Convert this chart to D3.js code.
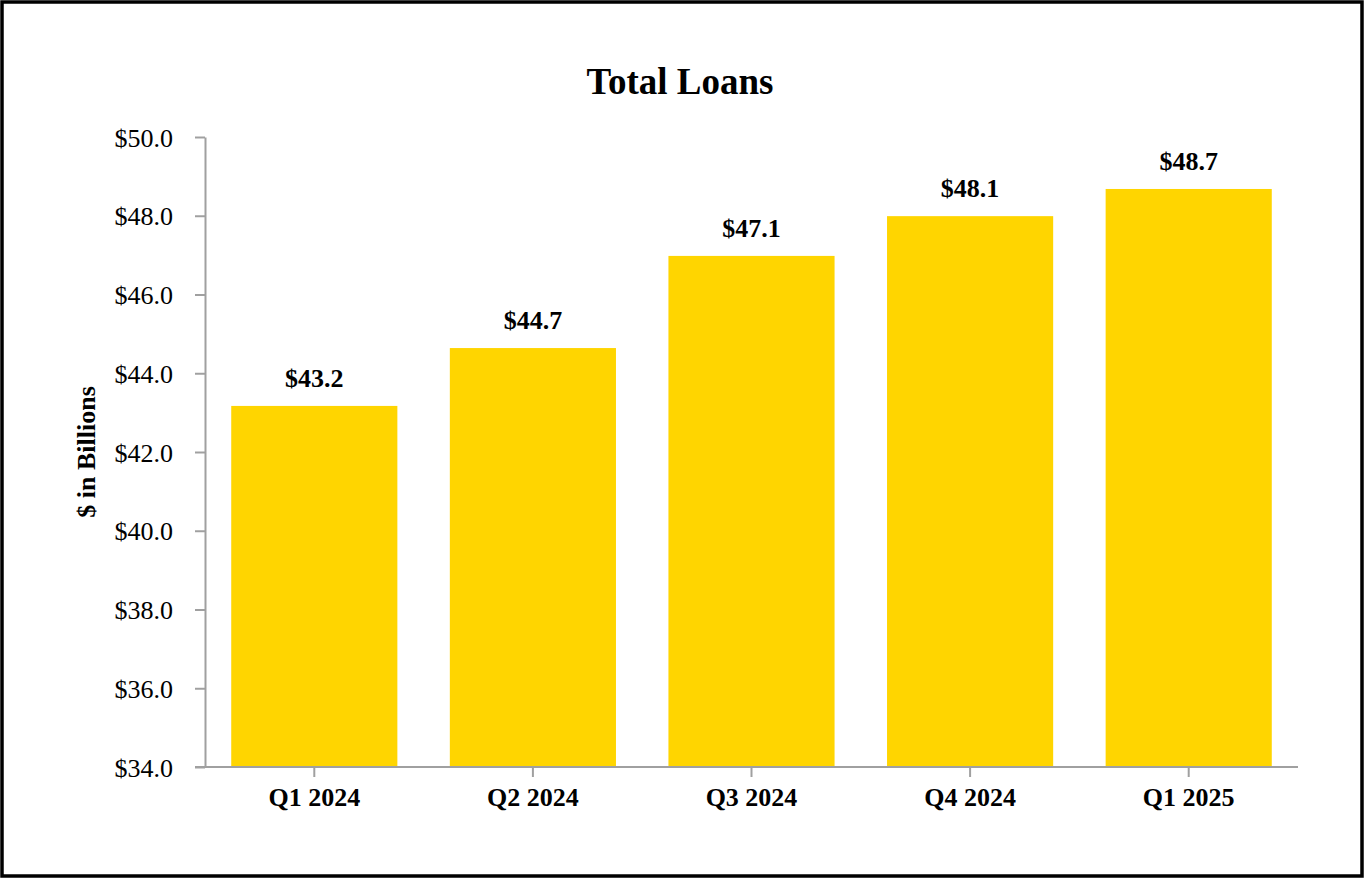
<!DOCTYPE html>
<html>
<head>
<meta charset="utf-8">
<script src="https://cdn.jsdelivr.net/npm/d3@7"></script>
<style>
  body { margin: 0; background: #fff; }
  svg text { font-family: "Liberation Serif", "Times New Roman", serif; }
</style>
</head>
<body>
<div id="chart"></div>
<script>
// chart data (bar heights as drawn, labels as printed)
var quarters = ["Q1 2024", "Q2 2024", "Q3 2024", "Q4 2024", "Q1 2025"];
var loans = [43.17, 44.64, 46.98, 47.99, 48.68];
var loanLabels = ["$43.2", "$44.7", "$47.1", "$48.1", "$48.7"];
var yTicks = [34, 36, 38, 40, 42, 44, 46, 48, 50];

var W = 1364, H = 878;
var margin = {top: 137, right: 66, bottom: 111, left: 205};
var width = W - margin.left - margin.right;
var height = H - margin.top - margin.bottom;

var svg = d3.select("#chart").append("svg")
  .attr("width", W)
  .attr("height", H);

// outer frame
svg.append("rect")
  .attr("x", 2).attr("y", 2)
  .attr("width", W - 4).attr("height", H - 4)
  .attr("fill", "none")
  .attr("stroke", "#000")
  .attr("stroke-width", 3.5);

svg.append("text")
  .attr("x", 680).attr("y", 94)
  .attr("text-anchor", "middle")
  .style("font-size", "37px")
  .style("font-weight", "bold")
  .text("Total Loans");

var g = svg.append("g")
  .attr("transform", "translate(" + margin.left + "," + margin.top + ")");

var x = d3.scaleBand().domain(quarters).range([0, width]).paddingInner(0.24).paddingOuter(0.12);
var y = d3.scaleLinear().domain([34, 50]).range([height, 0]);

// bars
g.selectAll(".bar")
  .data(loans)
  .enter().append("rect")
  .attr("class", "bar")
  .attr("x", function(d, i) { return x(quarters[i]); })
  .attr("y", function(d) { return y(d); })
  .attr("width", x.bandwidth())
  .attr("height", function(d) { return height - y(d); })
  .attr("fill", "#FFD500");

// value labels
g.selectAll(".val")
  .data(loans)
  .enter().append("text")
  .attr("class", "val")
  .attr("x", function(d, i) { return x(quarters[i]) + x.bandwidth() / 2; })
  .attr("y", function(d) { return y(d) - 19; })
  .attr("text-anchor", "middle")
  .style("font-size", "26px")
  .style("font-weight", "bold")
  .text(function(d, i) { return loanLabels[i]; });

// y axis
var yAxis = g.append("g")
  .call(d3.axisLeft(y).tickValues(yTicks).tickSize(10).tickSizeOuter(0)
    .tickFormat(function(d) { return "$" + d.toFixed(1); }));
yAxis.select(".domain").attr("stroke", "#a0a0a0").attr("stroke-width", 2);
yAxis.selectAll(".tick line").attr("stroke", "#a0a0a0").attr("stroke-width", 2);
yAxis.selectAll(".tick text")
  .attr("x", -32)
  .attr("dy", "0.35em")
  .style("font-size", "26px")
  .style("font-family", "Liberation Serif, serif")
  .attr("fill", "#000");

// x axis
var xAxis = g.append("g")
  .attr("transform", "translate(0," + height + ")")
  .call(d3.axisBottom(x).tickSize(10).tickSizeOuter(0));
xAxis.select(".domain").attr("stroke", "#a0a0a0").attr("stroke-width", 2)
  .attr("d", "M-10,0H" + width);
xAxis.selectAll(".tick line").attr("stroke", "#a0a0a0").attr("stroke-width", 2);
xAxis.selectAll(".tick text")
  .attr("y", 39)
  .attr("dy", 0)
  .style("font-size", "26px")
  .style("font-weight", "bold")
  .style("font-family", "Liberation Serif, serif")
  .attr("fill", "#000");

// y axis title
svg.append("text")
  .attr("transform", "translate(95," + (margin.top + height / 2) + ") rotate(-90)")
  .attr("text-anchor", "middle")
  .style("font-size", "26px")
  .style("font-weight", "bold")
  .text("$ in Billions");
</script>
</body>
</html>
